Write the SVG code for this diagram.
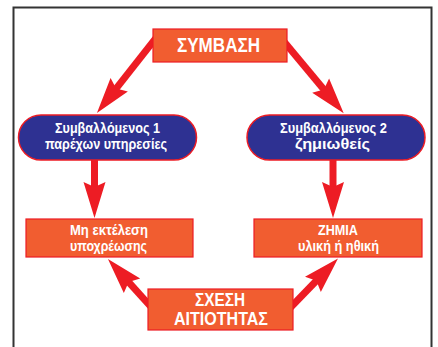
<svg xmlns="http://www.w3.org/2000/svg" width="438" height="347" viewBox="0 0 438 347">
<style>
.box{fill:#F15D30;stroke:#ED1C24;stroke-width:1.2}
.pill{fill:#2E3192;stroke:#ED1C24;stroke-width:1.5}
.t{font-family:"Liberation Sans",Arial,sans-serif;font-weight:bold;fill:#fff;text-anchor:middle}
.big{font-size:19.5px}
.mid{font-size:17.5px}
.sm{font-size:15px}
.arr{stroke:#ED1C24;stroke-width:7;fill:none;marker-end:url(#ah)}
</style>
<defs>
<marker id="ah" markerUnits="userSpaceOnUse" orient="auto" refX="0" refY="0" markerWidth="60" markerHeight="40" overflow="visible">
<path d="M30,0 L-6,-11 L-1,0 L-6,11 Z" fill="#ED1C24"/>
</marker>
</defs>
<rect x="13.5" y="7.5" width="418" height="360" fill="#fff" stroke="#333" stroke-width="2"/>
<g id="connectors">
<line class="arr" x1="157" y1="36.7" x2="115.5" y2="89.4"/>
<line class="arr" x1="281" y1="38" x2="324.5" y2="90.2"/>
<line class="arr" x1="94.5" y1="158" x2="94.5" y2="188"/>
<line class="arr" x1="333" y1="158" x2="333" y2="188"/>
<line class="arr" x1="152" y1="308" x2="128" y2="281.3"/>
<line class="arr" x1="290" y1="308" x2="317.1" y2="280"/>
</g>
<g id="symvasi">
<rect class="box" x="153" y="29" width="134" height="33"/>
<text class="t big" x="218.5" y="52" textLength="83" lengthAdjust="spacingAndGlyphs">ΣΥΜΒΑΣΗ</text>
</g>
<g id="symvallomenos1">
<rect class="pill" x="18.5" y="115" width="178" height="45" rx="22.5"/>
<text class="t sm" x="107.5" y="133" textLength="105" lengthAdjust="spacingAndGlyphs">Συμβαλλόμενος 1</text>
<text class="t sm" x="106" y="149" textLength="122" lengthAdjust="spacingAndGlyphs">παρέχων υπηρεσίες</text>
</g>
<g id="symvallomenos2">
<rect class="pill" x="247" y="115" width="178" height="45" rx="22.5"/>
<text class="t sm" x="333.5" y="133" textLength="107" lengthAdjust="spacingAndGlyphs">Συμβαλλόμενος 2</text>
<text class="t sm" x="332.5" y="149" textLength="75" lengthAdjust="spacingAndGlyphs">ζημιωθείς</text>
</g>
<g id="mi-ektelesi">
<rect class="box" x="26" y="219" width="167" height="38"/>
<text class="t sm" x="109" y="234.5" textLength="78" lengthAdjust="spacingAndGlyphs">Μη εκτέλεση</text>
<text class="t sm" x="108.5" y="251" textLength="77" lengthAdjust="spacingAndGlyphs">υποχρέωσης</text>
</g>
<g id="zimia">
<rect class="box" x="254" y="219" width="168" height="38"/>
<text class="t sm" x="338" y="234.5" textLength="40" lengthAdjust="spacingAndGlyphs">ΖΗΜΙΑ</text>
<text class="t sm" x="338.5" y="251" textLength="81" lengthAdjust="spacingAndGlyphs">υλική ή ηθική</text>
</g>
<g id="sxesi">
<rect class="box" x="148" y="289" width="145" height="41"/>
<text class="t mid" x="220" y="306" textLength="50" lengthAdjust="spacingAndGlyphs">ΣΧΕΣΗ</text>
<text class="t mid" x="221" y="324.5" textLength="94" lengthAdjust="spacingAndGlyphs">ΑΙΤΙΟΤΗΤΑΣ</text>
</g>
</svg>
